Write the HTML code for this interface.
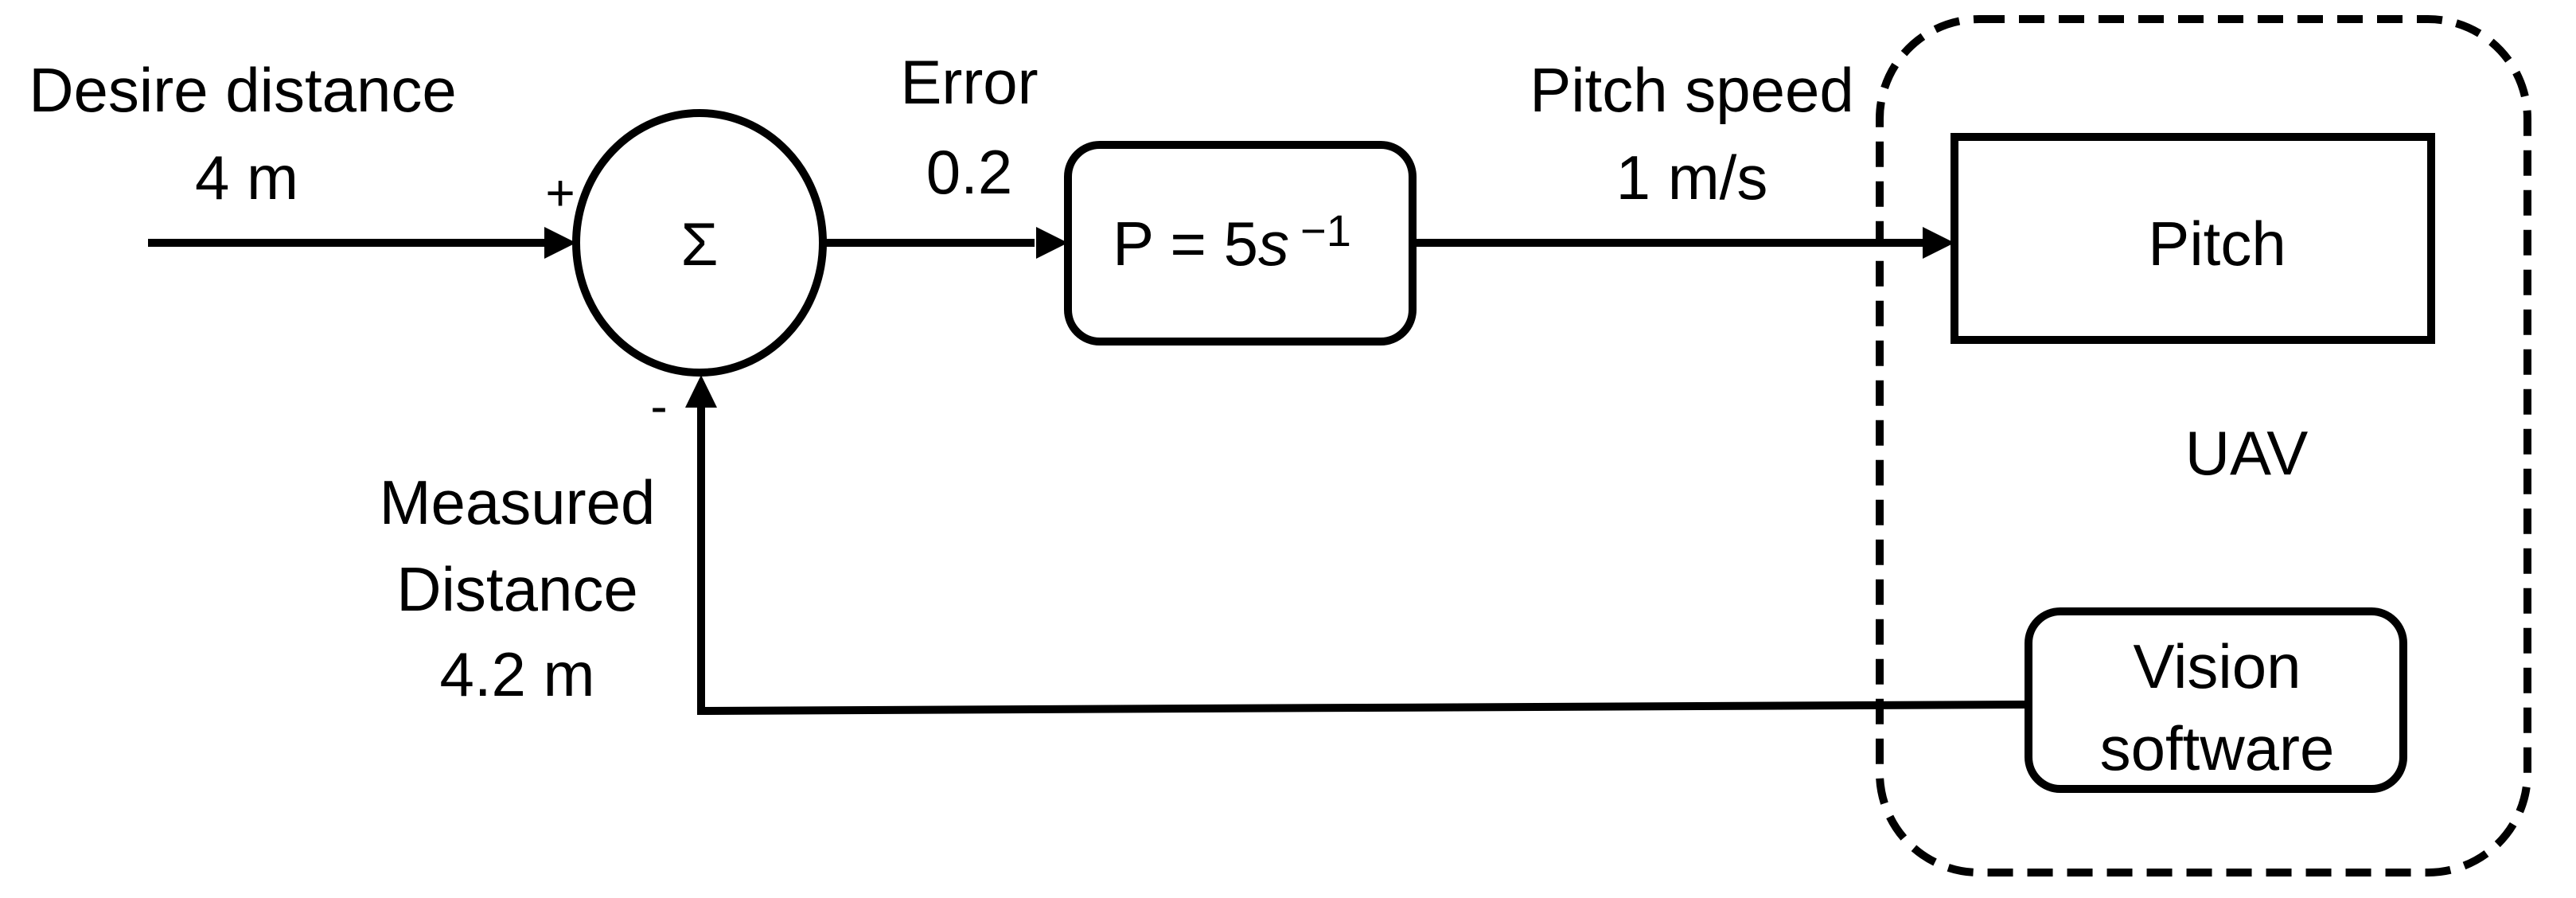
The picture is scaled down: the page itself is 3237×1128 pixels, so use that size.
<!DOCTYPE html>
<html><head><style>html,body{margin:0;padding:0;background:#fff}svg{display:block}</style></head>
<body>
<svg width="3237" height="1128" viewBox="0 0 3237 1128" xmlns="http://www.w3.org/2000/svg" font-family="Liberation Sans, sans-serif" font-size="78" fill="#000">
<g stroke="#000" stroke-width="10" fill="none">
  <line x1="186" y1="305" x2="690" y2="305"/>
  <ellipse cx="879" cy="305" rx="155" ry="163"/>
  <line x1="1036" y1="305" x2="1300" y2="305"/>
  <rect x="1342" y="182" width="433" height="247" rx="40"/>
  <line x1="1775" y1="305" x2="2420" y2="305"/>
  <rect x="2456" y="172" width="599" height="255"/>
  <rect x="2549" y="768" width="471" height="223" rx="40"/>
  <polyline points="2549,885 881,893 881,510"/>
  <rect x="2362" y="24" width="814" height="1072" rx="125" stroke-dasharray="32,18"/>
</g>
<polygon points="724,305 684,285 684,325"/>
<polygon points="1342,305 1302,285 1302,325"/>
<polygon points="2456,305 2416,285 2416,325"/>
<polygon points="881,471 861,512 901,512"/>
<g text-anchor="middle">
  <text x="305" y="140">Desire distance</text>
  <text x="310" y="250">4 m</text>
  <text x="1218" y="130">Error</text>
  <text x="1218" y="243">0.2</text>
  <text x="2126" y="140">Pitch speed</text>
  <text x="2126" y="250">1 m/s</text>
  <text x="650" y="658">Measured</text>
  <text x="650" y="767">Distance</text>
  <text x="650" y="874">4.2 m</text>
  <text x="879" y="333" font-size="76">Σ</text>
  <text x="1548" y="333">P = 5<tspan font-style="italic">s</tspan><tspan dx="14" dy="-24" font-size="56">−1</tspan></text>
  <text x="2786" y="333">Pitch</text>
  <text x="2823" y="596">UAV</text>
  <text x="2786" y="864">Vision</text>
  <text x="2786" y="967">software</text>
  <text x="704" y="264" font-size="64">+</text>
  <text x="828" y="532" font-size="64">-</text>
</g>
</svg>
</body></html>
